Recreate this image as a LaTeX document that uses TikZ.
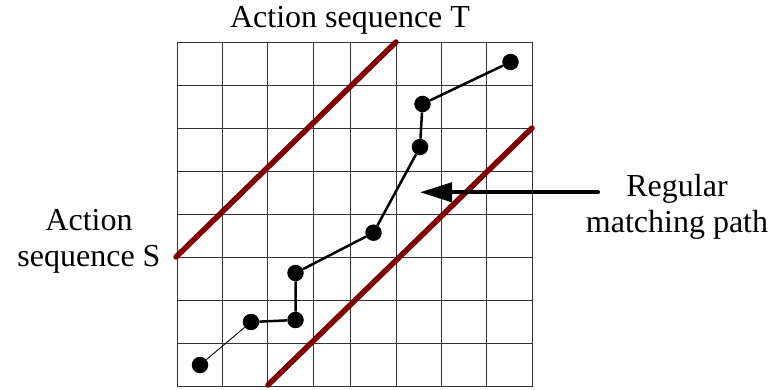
\documentclass[tikz,border=0pt]{standalone}
\usepackage{fontspec}
\setmainfont{Liberation Serif}
\usetikzlibrary{arrows.meta}
\definecolor{maroonline}{RGB}{128,0,0}
\tikzset{
  gridline/.style={line width=1pt, black!80},
  bandline/.style={line width=5.5pt, maroonline, line cap=round},
  dot/.style={circle, fill=black, inner sep=0pt, minimum size=16.5pt},
  pathline/.style={line width=2.5pt, black},
  thinline/.style={line width=0.9pt, black},
  lbl/.style={font=\fontsize{32}{36}\selectfont, inner sep=0pt, align=center},
  pointer/.style={line width=4pt, line cap=round, -{Triangle[length=32pt,width=19pt]}}
}
\begin{document}
\begin{tikzpicture}[x=1pt,y=-1pt]
\useasboundingbox (0,0) rectangle (777,390);
% grid
\foreach \gx in {177,222.7,267.7,313.3,350.5,396,441.7,486.7,532.3}
  \draw[gridline] (\gx,42.3) -- (\gx,386.7);
\foreach \k in {0,...,8}
  \draw[gridline] (177,42.3+43.05*\k) -- (532.3,42.3+43.05*\k);
% band limits
\coordinate (b1s) at (176,257);
\coordinate (b1e) at (396,42);
\coordinate (b2s) at (268,385);
\coordinate (b2e) at (532,128);
\draw[bandline] (b1s) -- (b1e);
\draw[bandline] (b2s) -- (b2e);
% matching path
\node[dot] (d1) at (200,365) {};
\node[dot] (d2) at (251,322) {};
\node[dot] (d3) at (295.5,320) {};
\node[dot] (d4) at (295.5,273) {};
\node[dot] (d5) at (373.5,232.7) {};
\node[dot] (d6) at (420,147) {};
\node[dot] (d7) at (422.5,104) {};
\node[dot] (d8) at (510.5,62) {};
\draw[thinline] (d1) -- (d2);
\draw[pathline] (d2) -- (d3) -- (d4) -- (d5) -- (d6) -- (d7) -- (d8);
% labels
\node[lbl, anchor=base] (tT) at (350,28) {Action sequence T};
\node[lbl, anchor=base] (tS) at (89,267) {Action\\sequence S};
\node[lbl, anchor=base] (tR) at (677,233) {Regular\\matching path};
% arrow
\coordinate (atail) at (598,192.3);
\coordinate (atip) at (420,192.3);
\draw[pointer] (atail) -- (atip);
\end{tikzpicture}
\end{document}
